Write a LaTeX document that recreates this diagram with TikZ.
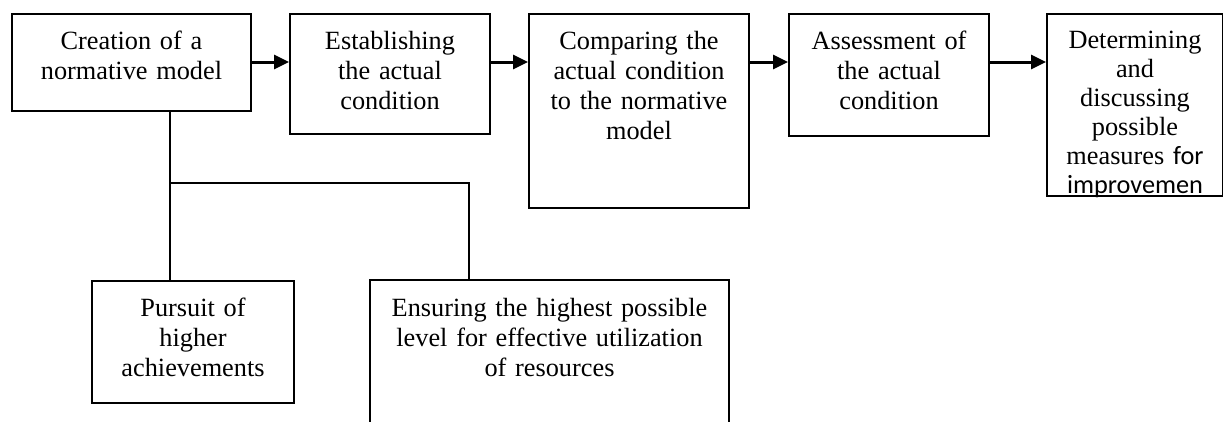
\documentclass[tikz,border=0pt]{standalone}
\usepackage{fontspec}
\setmainfont{Liberation Serif}
\newfontfamily\calfont{Carlito}
\usetikzlibrary{arrows.meta}
\newcommand\fsz{\fontsize{26.3}{30}\selectfont}
\newcommand\fszb{\fontsize{26.3}{29}\selectfont}
\begin{document}
\begin{tikzpicture}[x=1pt,y=-1pt,
 box/.style={draw, line width=2pt, anchor=north west, inner sep=0pt, align=center, font=\fsz},
 conn/.style={line width=2pt},
 arr/.style={line width=3pt, -{Triangle[length=15pt,width=14pt]}}]
\path[use as bounding box, clip] (0,0) rectangle (1223,421);
\fill[white] (0,0) rectangle (1223,421);
\node[box, text width=239pt, text height=35pt, text depth=62pt] (b1) at (11,13) {Creation of a\\normative model};
\node[box, text width=200pt, text height=35pt, text depth=85pt] (b2) at (289,13) {Establishing\\the actual\\condition};
\node[box, text width=220pt, text height=35pt, text depth=159pt] (b3) at (528,13) {Comparing the\\actual condition\\to the normative\\model};
\node[box, text width=200pt, text height=35pt, text depth=87pt] (b4) at (788,13) {Assessment of\\the actual\\condition};
\node[box, minimum width=176pt, minimum height=182pt] (b5) at (1046,13) {};
\begin{scope}
\clip (b5.north west) rectangle (b5.south east);
\node[anchor=north, inner sep=0pt, align=center, font=\fszb, text width=176pt, text height=35pt] (t5) at (b5.north) {Determining\\and\\discussing\\possible\\measures {\calfont for}\\{\calfont improvemen}};
\end{scope}
\node[box, text width=202pt, text height=35pt, text depth=87pt] (b6) at (91,280) {Pursuit of\\higher\\achievements};
\node[box, text width=359pt, text height=36pt, text depth=134pt] (b7) at (369,279) {Ensuring the highest possible\\level for effective utilization\\of resources};
\coordinate (ay) at (0,62);
\draw[arr] (b1.east |- ay) -- (b2.west |- ay);
\draw[arr] (b2.east |- ay) -- (b3.west |- ay);
\draw[arr] (b3.east |- ay) -- (b4.west |- ay);
\draw[arr] (b4.east |- ay) -- (b5.west |- ay);
\coordinate (j) at (170,183);
\coordinate (k) at (469,183);
\draw[conn] (j |- b1.south) -- (j |- b6.north);
\draw[conn] (j) -- (k) -- (k |- b7.north);
\end{tikzpicture}
\end{document}
